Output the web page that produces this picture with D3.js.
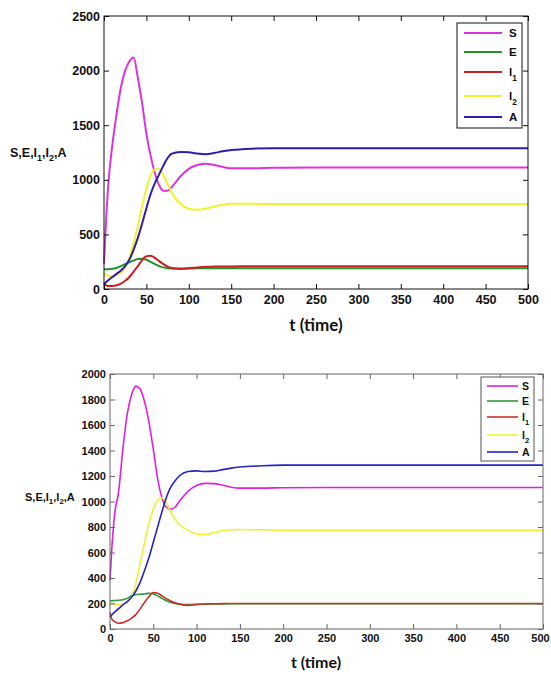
<!DOCTYPE html>
<html><head><meta charset="utf-8">
<script src="https://cdn.jsdelivr.net/npm/d3@7"></script>
<style>body{margin:0;background:#fff}svg{display:block}</style>
</head><body>
<svg id="c" width="551" height="674"></svg>
<script>
// ---------- data ----------
const seriesNames = ["S","E","I1","I2","A"];
const xTicks = [0,50,100,150,200,250,300,350,400,450,500];
const yTicksTop = [0,500,1000,1500,2000,2500];
const yTicksBot = [0,200,400,600,800,1000,1200,1400,1600,1800,2000];

const tTop = [0,2,5,10,15,20,25,30,35,40,45,50,55,60,65,70,75,80,90,100,110,120,130,140,150,175,200,250,300,400,500];
const S_top  = [230,560,950,1330,1610,1850,2000,2085,2120,1930,1700,1420,1220,1060,950,900,900,935,1030,1100,1135,1148,1135,1118,1105,1105,1110,1112,1112,1112,1112];
const E_top  = [180,180,181,185,195,210,228,245,262,275,278,268,248,228,210,198,190,187,186,188,189,190,190,190,190,190,190,190,190,190,190];
const I1_top = [50,35,28,28,35,50,75,110,160,210,265,300,305,285,255,228,205,192,185,190,197,203,205,206,207,208,208,208,208,208,208];
const I2_top = [150,135,120,120,130,150,195,290,420,580,760,920,1040,1095,1100,1040,960,880,780,735,725,735,755,772,780,780,778,778,778,778,778];
const A_top  = [45,60,80,110,140,170,210,270,360,470,600,740,870,970,1050,1130,1200,1240,1255,1252,1240,1235,1245,1262,1272,1285,1290,1290,1290,1290,1290];

const tBot = [0,2,5,10,15,20,25,30,35,40,45,50,55,60,65,70,75,80,90,100,110,120,130,140,150,175,200,250,300,400,500];
const S_bot  = [380,620,880,1080,1420,1690,1840,1905,1880,1780,1620,1410,1180,1030,955,940,955,1000,1080,1125,1142,1140,1128,1112,1105,1105,1108,1110,1110,1110,1110];
const E_bot  = [222,222,223,225,230,240,262,270,273,275,280,275,260,240,222,208,200,196,192,193,195,196,197,198,198,198,198,198,198,198,198];
const I1_bot = [130,80,60,45,50,65,85,115,160,210,255,285,280,260,238,220,205,195,185,192,196,198,199,200,200,200,200,200,200,200,200];
const I2_bot = [210,200,195,190,195,210,250,360,520,680,830,940,1010,1030,990,920,860,820,775,745,740,755,770,778,780,778,775,775,775,775,775];
const A_bot  = [95,110,130,160,190,215,250,300,370,460,560,680,800,920,1030,1110,1160,1200,1235,1240,1235,1238,1250,1262,1270,1280,1285,1285,1285,1285,1285];

// ---------- drawing ----------
const svg = d3.select("#c");
svg.append("rect").attr("width",551).attr("height",674).attr("fill","#fff");
const ARIAL = "'Liberation Sans', Arial, sans-serif";

function panel(cfg){
  const g = svg.append("g");
  const x = d3.scaleLinear().domain([0,500]).range([cfg.x0,cfg.x1]);
  const y = d3.scaleLinear().domain([0,cfg.ymax]).range([cfg.y1,cfg.y0]);
  const tl = 5;
  const fmt = d3.format("d");
  const line = d3.line().x(d=>x(d[0])).y(d=>y(d[1])).curve(d3.curveMonotoneX);
  cfg.series.forEach((s,i)=>{
    g.append("path").datum(cfg.t.map((tt,j)=>[tt,s[j]]))
      .attr("d",line).attr("fill","none").attr("stroke",cfg.colors[i])
      .attr("stroke-width",cfg.lw).attr("stroke-linejoin","round");
  });
  const fs = cfg.fs;
  const bottom = g.append("g").attr("transform",`translate(0,${cfg.y1})`)
    .call(d3.axisBottom(x).tickValues(xTicks).tickFormat(fmt).tickSizeInner(-tl).tickSizeOuter(0).tickPadding(cfg.xpad));
  const top = g.append("g").attr("transform",`translate(0,${cfg.y0})`)
    .call(d3.axisTop(x).tickValues(xTicks).tickSizeInner(-tl).tickSizeOuter(0).tickFormat(""));
  const left = g.append("g").attr("transform",`translate(${cfg.x0},0)`)
    .call(d3.axisLeft(y).tickValues(cfg.yTicks).tickFormat(fmt).tickSizeInner(-tl).tickSizeOuter(0).tickPadding(cfg.ypad));
  const right = g.append("g").attr("transform",`translate(${cfg.x1},0)`)
    .call(d3.axisRight(y).tickValues(cfg.yTicks).tickSizeInner(-tl).tickSizeOuter(0).tickFormat(""));
  [bottom,top,left,right].forEach(a=>{
    a.select(".domain").remove();
    a.selectAll("line").attr("stroke",cfg.axisColor).attr("stroke-width",1);
    a.selectAll("text").attr("font-family",ARIAL)
      .attr("font-weight","bold").attr("font-size",fs).attr("fill","#111");
  });
  if(cfg.lastDx) bottom.selectAll(".tick:last-of-type text").attr("dx",cfg.lastDx);
  g.append("rect").attr("x",cfg.x0).attr("y",cfg.y0).attr("width",cfg.x1-cfg.x0).attr("height",cfg.y1-cfg.y0)
    .attr("fill","none").attr("stroke",cfg.axisColor).attr("stroke-width",1);

  const yl = g.append("text").attr("x",cfg.ylx).attr("y",cfg.yly)
    .attr("font-family",ARIAL).attr("font-weight","bold")
    .attr("font-size",cfg.ylfs).attr("fill","#111");
  yl.append("tspan").text("S,E,I");
  yl.append("tspan").text("1").attr("font-size",cfg.ylfs*0.72).attr("dy",cfg.ylfs*0.3);
  yl.append("tspan").text(",I").attr("dy",-cfg.ylfs*0.3);
  yl.append("tspan").text("2").attr("font-size",cfg.ylfs*0.72).attr("dy",cfg.ylfs*0.3);
  yl.append("tspan").text(",A").attr("dy",-cfg.ylfs*0.3);

  g.append("text").attr("x",cfg.xlx).attr("y",cfg.xly).attr("text-anchor","middle")
    .attr("font-family","Lato, 'Open Sans', sans-serif").attr("font-weight","bold")
    .attr("font-size",cfg.xlfs).attr("fill","#111").text("t (time)");

  const L = cfg.leg;
  g.append("rect").attr("x",L.x0).attr("y",L.y0).attr("width",L.x1-L.x0).attr("height",L.y1-L.y0)
    .attr("fill","#fff").attr("stroke",cfg.legStroke).attr("stroke-width",1);
  seriesNames.forEach((n,i)=>{
    const yy = L.ys[i];
    g.append("line").attr("x1",L.lx0).attr("x2",L.lx1).attr("y1",yy).attr("y2",yy)
      .attr("stroke",cfg.colors[i]).attr("stroke-width",cfg.lw);
    const t = g.append("text").attr("x",L.tx).attr("y",yy+L.fs*0.36)
      .attr("font-family",ARIAL).attr("font-weight","bold")
      .attr("font-size",L.fs).attr("fill","#111");
    if(n.length>1){
      t.append("tspan").text(n[0]);
      t.append("tspan").text(n[1]).attr("font-size",L.fs*0.72).attr("dy",L.fs*0.4);
    } else t.text(n);
  });
}

panel({
  x0:104,x1:528,y0:16,y1:289,ymax:2500,yTicks:yTicksTop,t:tTop,
  series:[S_top,E_top,I1_top,I2_top,A_top],
  colors:["#dd33dd","#22922a","#c82020","#f2f22a","#2d1ea8"],
  lw:2,fs:12.5,xpad:6,ypad:4,axisColor:"#111",
  ylx:10,yly:157,ylfs:12.5,xlx:316,xly:331,xlfs:17,
  legStroke:"#111",
  leg:{x0:457,x1:522,y0:23,y1:128,ys:[33,52,72,96,117],lx0:464,lx1:502,tx:509,fs:11.5}
});
panel({
  x0:110,x1:543,y0:374,y1:629,ymax:2000,yTicks:yTicksBot,t:tBot,
  series:[S_bot,E_bot,I1_bot,I2_bot,A_bot],
  colors:["#e020e0","#2f9a3c","#c8302a","#f0f030","#2424c8"],
  lw:1.6,fs:11,xpad:5,ypad:4,axisColor:"#666",lastDx:-3,
  ylx:25,yly:501,ylfs:11,xlx:316,xly:668,xlfs:16,
  legStroke:"#555",
  leg:{x0:481,x1:534,y0:377,y1:461,ys:[386,401,417,435,452],lx0:487,lx1:518,tx:522,fs:10.5}
});
</script>
</body></html>
